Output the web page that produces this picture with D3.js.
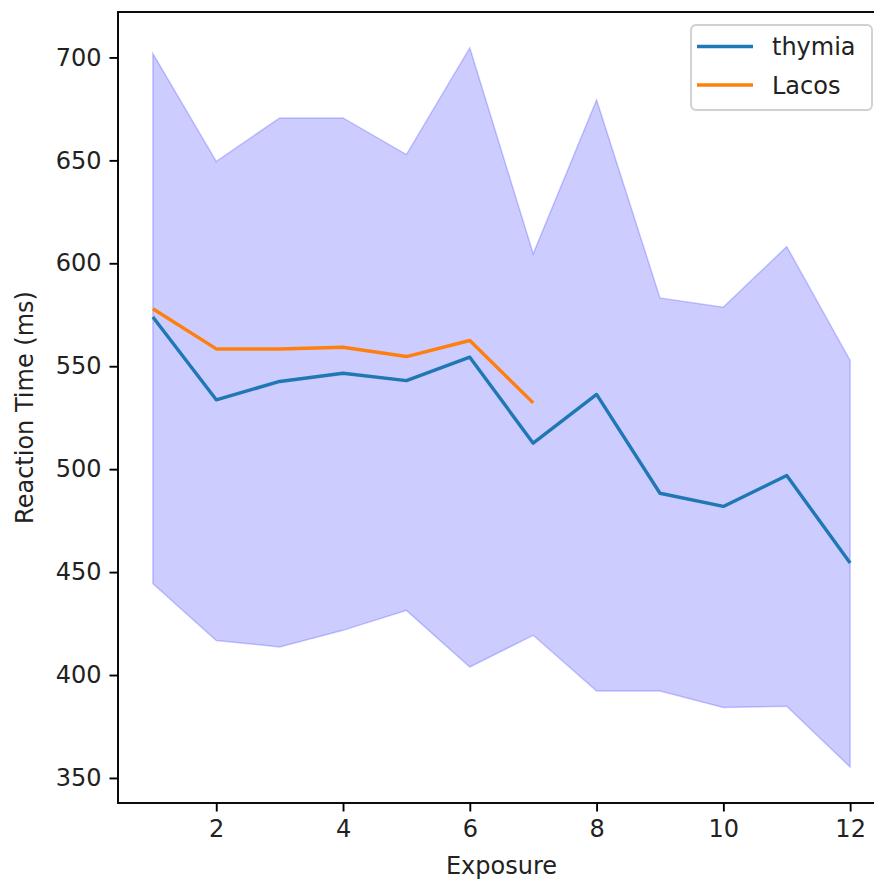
<!DOCTYPE html>
<html>
<head>
<meta charset="utf-8">
<script src="https://cdn.jsdelivr.net/npm/d3@7"></script>
<style>
  html, body { margin: 0; padding: 0; background: #fff; }
  svg { display: block; font-family: "DejaVu Sans", sans-serif; }
</style>
</head>
<body>
<svg id="chart"></svg>
<script>
// data
const exposure = [1, 2, 3, 4, 5, 6, 7, 8, 9, 10, 11, 12];
const thymia = [573.9, 533.7, 542.6, 546.6, 543.0, 554.4, 512.6, 536.3, 488.3, 481.9, 496.9, 454.4];
const lacos = [577.9, 558.4, 558.4, 559.2, 554.7, 562.5, 532.2];
const bandUpper = [701.9, 649.5, 670.6, 670.6, 652.8, 704.6, 604.6, 679.3, 583.2, 578.7, 608.1, 552.8];
const bandLower = [444.4, 416.8, 413.6, 421.7, 431.4, 403.9, 419.3, 392.2, 392.2, 384.2, 384.8, 355.3];
const xTicks = [2, 4, 6, 8, 10, 12];
const yTicks = [350, 400, 450, 500, 550, 600, 650, 700];
const seriesNames = ["thymia", "Lacos"];
const seriesColors = ["#1f77b4", "#ff7f0e"];

document.addEventListener("DOMContentLoaded", function () {
    const width = 874;
    const height = 882;
    const left = 118, top = 12, right = 885, bottom = 803;
    const fontSize = 24;

    const svg = d3.select("#chart")
        .attr("width", width)
        .attr("height", height);

    // matplotlib-like 5% margins
    const xMin = d3.min(exposure), xMax = d3.max(exposure);
    const xPad = (xMax - xMin) * 0.05;
    const yMin = d3.min(bandLower), yMax = d3.max(bandUpper);
    const yPad = (yMax - yMin) * 0.05;

    const x = d3.scaleLinear().domain([xMin - xPad, xMax + xPad]).range([left, right]);
    const y = d3.scaleLinear().domain([yMin - yPad, yMax + yPad]).range([bottom, top]);

    // shaded band
    const area = d3.area()
        .x((d, i) => x(exposure[i]))
        .y0((d, i) => y(bandLower[i]))
        .y1(d => y(d));

    svg.append("path")
        .datum(bandUpper)
        .attr("d", area)
        .attr("fill", "blue")
        .attr("fill-opacity", 0.2)
        .attr("stroke", "blue")
        .attr("stroke-opacity", 0.2)
        .attr("stroke-width", 1.5);

    const line = d3.line()
        .x((d, i) => x(exposure[i]))
        .y(d => y(d));

    [thymia, lacos].forEach((s, k) => {
        svg.append("path")
            .datum(s)
            .attr("d", line)
            .attr("fill", "none")
            .attr("stroke", seriesColors[k])
            .attr("stroke-width", 3.4)
            .attr("stroke-linejoin", "round");
    });

    // axes
    const xAxis = svg.append("g")
        .attr("transform", `translate(0,${bottom})`)
        .call(d3.axisBottom(x).tickValues(xTicks).tickSize(8.5).tickPadding(8).tickFormat(d3.format("d")));
    const yAxis = svg.append("g")
        .attr("transform", `translate(${left},0)`)
        .call(d3.axisLeft(y).tickValues(yTicks).tickSize(8.5).tickPadding(8).tickFormat(d3.format("d")));

    [xAxis, yAxis].forEach(g => {
        g.select(".domain").remove();
        g.selectAll(".tick line").attr("stroke", "#000").attr("stroke-width", 1.9);
        g.selectAll(".tick text")
            .attr("fill", "#222")
            .style("font-size", fontSize + "px")
            .style("font-family", "DejaVu Sans");
    });

    // frame
    svg.append("rect")
        .attr("x", left)
        .attr("y", top)
        .attr("width", right - left)
        .attr("height", bottom - top)
        .attr("fill", "none")
        .attr("stroke", "#000")
        .attr("stroke-width", 1.9);

    // axis labels
    svg.append("text")
        .attr("x", (left + right) / 2)
        .attr("y", 874)
        .attr("text-anchor", "middle")
        .attr("fill", "#222")
        .style("font-size", fontSize + "px")
        .text("Exposure");

    svg.append("text")
        .attr("transform", `translate(33,${(top + bottom) / 2}) rotate(-90)`)
        .attr("text-anchor", "middle")
        .attr("fill", "#222")
        .style("font-size", fontSize + "px")
        .text("Reaction Time (ms)");

    // legend
    const legend = svg.append("g").attr("transform", "translate(691,25)");
    legend.append("rect")
        .attr("width", 181)
        .attr("height", 85)
        .attr("rx", 5)
        .attr("fill", "#fff")
        .attr("fill-opacity", 0.8)
        .attr("stroke", "#d0d0d0")
        .attr("stroke-width", 1.9);

    seriesNames.forEach((name, i) => {
        const ly = 21.5 + i * 38.5;
        legend.append("line")
            .attr("x1", 6).attr("x2", 62)
            .attr("y1", ly).attr("y2", ly)
            .attr("stroke", seriesColors[i])
            .attr("stroke-width", 3.4);
        legend.append("text")
            .attr("x", 81)
            .attr("y", ly + 8.5)
            .attr("fill", "#222")
            .style("font-size", fontSize + "px")
            .text(name);
    });
});
</script>
</body>
</html>
